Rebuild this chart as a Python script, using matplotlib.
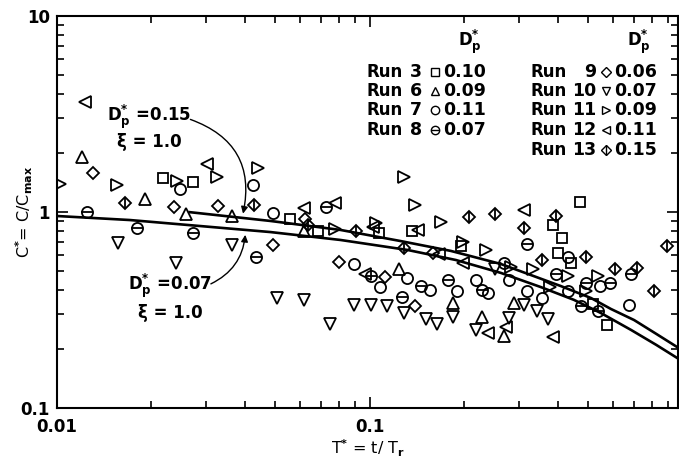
import matplotlib
matplotlib.use('Agg')
import matplotlib.pyplot as plt
from matplotlib.lines import Line2D
from matplotlib.ticker import LogLocator, NullFormatter, FixedLocator, FixedFormatter

plt.rcParams['font.family'] = ['DejaVu Sans']
plt.rcParams['font.weight'] = 'bold'
plt.rcParams['mathtext.fontset'] = 'dejavusans'
plt.rcParams['mathtext.default'] = 'bf'

# ---------------- data ----------------
run_ids = [3, 6, 7, 8, 9, 10, 11, 12, 13]
dp_labels = ['0.10', '0.09', '0.11', '0.07', '0.06', '0.07', '0.09', '0.11', '0.15']

run3_t = [0.0219, 0.0273, 0.0558, 0.0684, 0.107, 0.137, 0.196, 0.387, 0.412, 0.470, 0.402, 0.441, 0.519, 0.573]
run3_c = [1.49, 1.42, 0.92, 0.80, 0.78, 0.80, 0.67, 0.86, 0.74, 1.12, 0.62, 0.55, 0.34, 0.265]

run6_t = [0.0120, 0.0191, 0.0258, 0.0364, 0.0617, 0.1245, 0.185, 0.229, 0.270, 0.290]
run6_c = [1.91, 1.17, 0.98, 0.95, 0.80, 0.51, 0.345, 0.29, 0.234, 0.345]

run7_t = [0.0248, 0.0424, 0.049, 0.0891, 0.1076, 0.1318, 0.1557, 0.1905, 0.2193, 0.240, 0.27, 0.28,
          0.318, 0.355, 0.43, 0.43, 0.548, 0.676]
run7_c = [1.31, 1.37, 0.99, 0.54, 0.414, 0.46, 0.40, 0.393, 0.448, 0.384, 0.552, 0.448,
          0.393, 0.366, 0.592, 0.393, 0.42, 0.337]

run8_t = [0.0125, 0.018, 0.0273, 0.0434, 0.0728, 0.101, 0.1267, 0.1457, 0.1786, 0.229, 0.318, 0.396,
          0.491, 0.588, 0.687, 0.476, 0.540]
run8_c = [1.0, 0.83, 0.78, 0.59, 1.065, 0.474, 0.37, 0.42, 0.448, 0.40, 0.687, 0.485,
          0.435, 0.435, 0.485, 0.33, 0.313]

run9_t = [0.013, 0.0237, 0.0328, 0.049, 0.062, 0.0798, 0.112, 0.140, 0.160]
run9_c = [1.58, 1.065, 1.07, 0.682, 0.92, 0.556, 0.466, 0.33, 0.62]

run10_t = [0.0157, 0.024, 0.0364, 0.0507, 0.0617, 0.0747, 0.0891, 0.101, 0.1133, 0.129, 0.151, 0.164,
           0.185, 0.219, 0.252, 0.28, 0.313, 0.343, 0.372]
run10_c = [0.698, 0.552, 0.682, 0.366, 0.356, 0.268, 0.337, 0.337, 0.333, 0.305, 0.284, 0.268,
           0.29, 0.25, 0.509, 0.288, 0.337, 0.313, 0.284]

run11_t = [0.0102, 0.0156, 0.0242, 0.0326, 0.0438, 0.0778, 0.1045, 0.129, 0.140, 0.169, 0.1995, 0.236,
           0.283, 0.333, 0.379, 0.43, 0.491, 0.54]
run11_c = [1.39, 1.37, 1.44, 1.51, 1.68, 0.815, 0.88, 1.51, 1.085, 0.89, 0.70, 0.64,
           0.524, 0.509, 0.414, 0.474, 0.393, 0.47]

run12_t = [0.0123, 0.0303, 0.0617, 0.0778, 0.1023, 0.0964, 0.1426, 0.1667, 0.1995, 0.24, 0.273, 0.313, 0.387]
run12_c = [3.63, 1.76, 1.048, 1.11, 0.84, 0.485, 0.81, 0.61, 0.552, 0.241, 0.26, 1.02, 0.23]

run13_t = [0.0165, 0.0428, 0.0636, 0.0902, 0.129, 0.2084, 0.2523, 0.3126, 0.396, 0.355, 0.491, 0.61,
           0.718, 0.813, 0.895]
run13_c = [1.11, 1.085, 0.86, 0.80, 0.655, 0.943, 0.977, 0.829, 0.954, 0.569, 0.592, 0.512,
           0.518, 0.395, 0.67]

# model curves
curve015_t = [0.0263, 0.0482, 0.0807, 0.1256, 0.182, 0.263, 0.328, 0.409, 0.511, 0.592, 0.702, 0.826, 0.986]
curve015_c = [1.0, 0.90, 0.81, 0.711, 0.633, 0.543, 0.477, 0.419, 0.364, 0.320, 0.281, 0.239, 0.200]
curve007_t = [0.01, 0.0171, 0.0287, 0.0482, 0.0807, 0.1324, 0.1888, 0.263, 0.353, 0.451, 0.550, 0.687, 0.826, 0.986]
curve007_c = [0.954, 0.91, 0.848, 0.79, 0.72, 0.64, 0.569, 0.489, 0.414, 0.356, 0.305, 0.250, 0.21, 0.176]

series = {3: (run3_t, run3_c), 6: (run6_t, run6_c), 7: (run7_t, run7_c), 8: (run8_t, run8_c),
          9: (run9_t, run9_c), 10: (run10_t, run10_c), 11: (run11_t, run11_c),
          12: (run12_t, run12_c), 13: (run13_t, run13_c)}

# ---------------- styles ----------------
styles = {
    3: dict(marker='s', ms=7.0, overlay=None),
    6: dict(marker='^', ms=8.0, overlay=None),
    7: dict(marker='o', ms=8.0, overlay=None),
    8: dict(marker='o', ms=8.0, overlay='_'),
    9: dict(marker='D', ms=6.5, overlay=None),
    10: dict(marker='v', ms=8.0, overlay=None),
    11: dict(marker='>', ms=8.0, overlay=None),
    12: dict(marker='<', ms=8.0, overlay=None),
    13: dict(marker='D', ms=6.5, overlay='|'),
}
MEW = 1.3

W, H = 679, 461
fig = plt.figure(figsize=(W / 100, H / 100), dpi=100)
ax = fig.add_axes([57 / W, 1 - 408 / H, (678 - 57) / W, (408 - 16) / H])
ax.set_xscale('log')
ax.set_yscale('log')
ax.set_xlim(0.01, 0.97)
ax.set_ylim(0.1, 10)

# curves
ax.plot(curve015_t, curve015_c, color='black', lw=1.9, solid_capstyle='butt')
ax.plot(curve007_t, curve007_c, color='black', lw=1.9, solid_capstyle='butt')

for rid in run_ids:
    t, c = series[rid]
    st = styles[rid]
    ax.plot(t, c, linestyle='none', marker=st['marker'], ms=st['ms'],
            mfc='none', mec='black', mew=MEW)
    if st['overlay'] is not None:
        ms2 = st['ms'] * (1.414 if st['marker'] == 'D' else 1.0)
        ax.plot(t, c, linestyle='none', marker=st['overlay'], ms=ms2, mec='black', mew=MEW)

# ticks
ax.xaxis.set_major_locator(FixedLocator([0.01, 0.1, 1.0]))
ax.xaxis.set_major_formatter(FixedFormatter(['0.01', '0.1', '1']))
ax.xaxis.set_minor_locator(LogLocator(base=10, subs=range(2, 10)))
ax.xaxis.set_minor_formatter(NullFormatter())
ax.yaxis.set_major_locator(FixedLocator([0.1, 1.0, 10.0]))
ax.yaxis.set_major_formatter(FixedFormatter(['0.1', '1', '10']))
ax.yaxis.set_minor_locator(LogLocator(base=10, subs=range(2, 10)))
ax.yaxis.set_minor_formatter(NullFormatter())
ax.tick_params(which='both', direction='in', top=True, right=True, width=1.2, labelsize=12)
ax.tick_params(which='major', length=8)
ax.tick_params(which='minor', length=5)
ax.tick_params(axis='x', which='major', pad=7)
ax.tick_params(axis='y', which='major', pad=5)
for s in ax.spines.values():
    s.set_linewidth(1.5)

ax.set_xlabel(r'T$^{*}$ = t/ T$_{r}$', fontsize=11.5)
ax.xaxis.set_label_coords(0.5, -0.075)
ax.set_ylabel(r'C$^{*}$= C/C$_{max}$', fontsize=11.5)
ax.yaxis.set_label_coords(-0.036, 0.5)

# annotations
ax.text(0.0197, 2.72, 'D$_{p}^{*}$ =0.15\nξ = 1.0', ha='center', va='center', fontsize=12,
        linespacing=1.1)
ax.annotate('', xy=(0.0392, 0.95), xytext=(0.0262, 3.0),
            arrowprops=dict(arrowstyle='-|>', lw=1.0, color='black',
                            connectionstyle='arc3,rad=-0.45', mutation_scale=10))
ax.text(0.0230, 0.368, 'D$_{p}^{*}$ =0.07\nξ = 1.0', ha='center', va='center', fontsize=12,
        linespacing=1.3)
ax.annotate('', xy=(0.0401, 0.79), xytext=(0.0305, 0.424),
            arrowprops=dict(arrowstyle='-|>', lw=1.0, color='black',
                            connectionstyle='arc3,rad=0.3', mutation_scale=10))


# legend block (figure pixel positions)
def fp(x, y):
    return x / W, 1 - y / H


fig.text(*fp(470, 42), r'D$_{p}^{*}$', ha='center', va='center', fontsize=12)
fig.text(*fp(639, 42), r'D$_{p}^{*}$', ha='center', va='center', fontsize=12)
left_rows = [72, 91, 110, 130]
right_rows = [72, 91, 110, 130, 150]
for i, rid in enumerate(run_ids):
    if i < 4:
        y = left_rows[i]
        xr, xn, xm, xv = 366, 422, 435, 443
    else:
        y = right_rows[i - 4]
        xr, xn, xm, xv = 530, 596, 606, 614
    fig.text(*fp(xr, y), 'Run', ha='left', va='center', fontsize=12)
    fig.text(*fp(xn, y), str(rid), ha='right', va='center', fontsize=12.5)
    fig.text(*fp(xv, y), dp_labels[i], ha='left', va='center', fontsize=12.5)
    mx, my = fp(xm, y)
    st = styles[rid]
    fig.lines.append(Line2D([mx], [my], linestyle='none', marker=st['marker'],
                            ms=st['ms'] * 0.75, mfc='none', mec='black', mew=1.0,
                            transform=fig.transFigure, figure=fig))
    if st['overlay'] is not None:
        ms2 = st['ms'] * 0.75 * (1.414 if st['marker'] == 'D' else 1.0)
        fig.lines.append(Line2D([mx], [my], linestyle='none', marker=st['overlay'],
                                ms=ms2, mec='black', mew=1.0,
                                transform=fig.transFigure, figure=fig))

fig.savefig('out.png', dpi=100)
